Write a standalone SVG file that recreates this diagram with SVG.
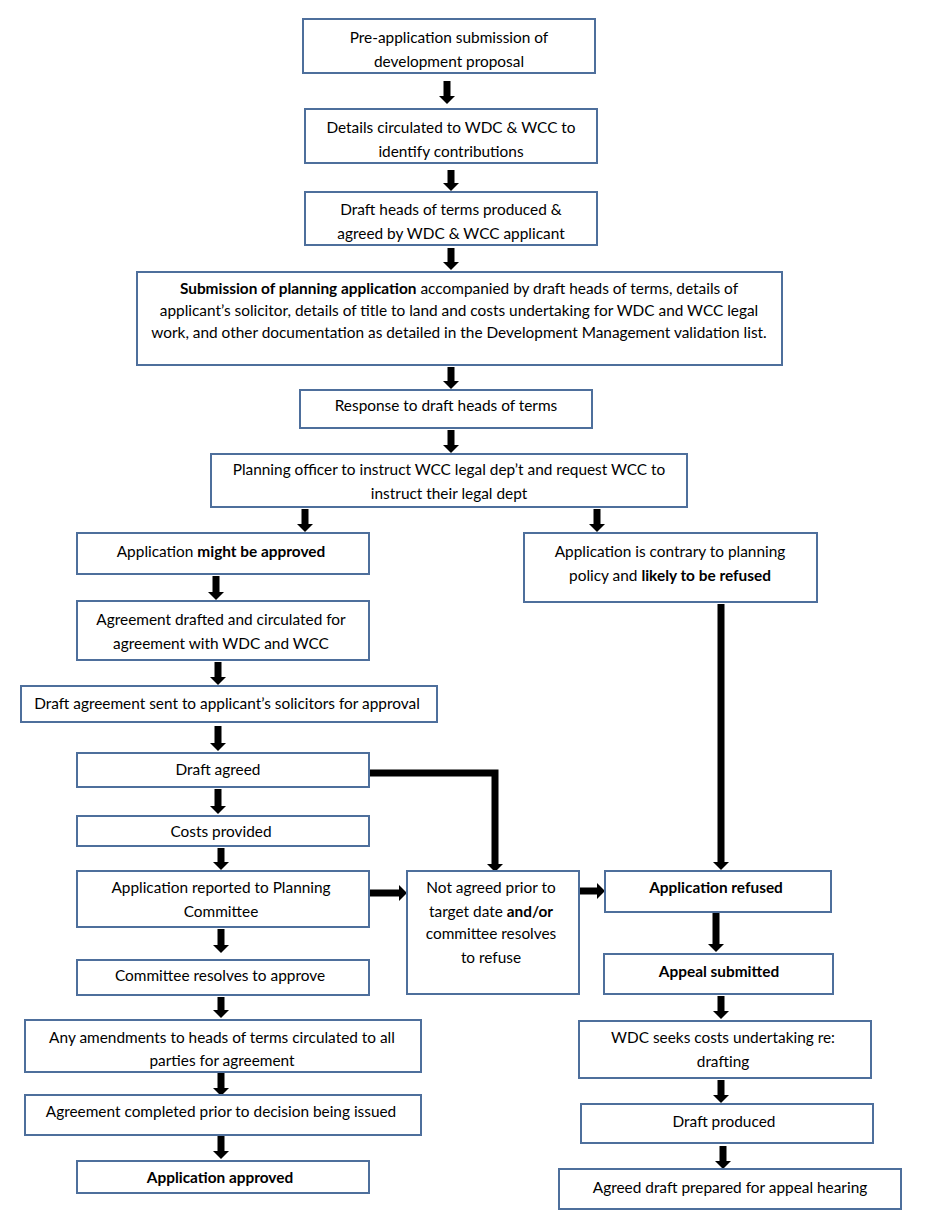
<svg xmlns="http://www.w3.org/2000/svg" width="926" height="1228" viewBox="0 0 926 1228">
<style>
.b{fill:#fff;stroke:#4E6F9C;stroke-width:2}
text{font-family:Lato,"Open Sans","Liberation Sans",sans-serif;font-size:15.4px;fill:#000;text-anchor:middle}
.bd{font-weight:bold}
.c{fill:none;stroke:#000;stroke-width:7}
</style>
<defs>
<marker id="ah" markerUnits="userSpaceOnUse" viewBox="0 0 8 16" refX="0" refY="8" markerWidth="8" markerHeight="16" orient="auto">
<path d="M0,0 L8,8 L0,16 z" fill="#000"/>
</marker>
</defs>
<rect width="926" height="1228" fill="#fff"/>
<g id="connectors">
<path class="c" d="M447,81 V96" marker-end="url(#ah)"/>
<path class="c" d="M451,170 V183" marker-end="url(#ah)"/>
<path class="c" d="M451,248 V262" marker-end="url(#ah)"/>
<path class="c" d="M451,367 V381" marker-end="url(#ah)"/>
<path class="c" d="M451,430 V445" marker-end="url(#ah)"/>
<path class="c" d="M305,509 V524" marker-end="url(#ah)"/>
<path class="c" d="M597,509 V524" marker-end="url(#ah)"/>
<path class="c" d="M216,576 V592" marker-end="url(#ah)"/>
<path class="c" d="M218,662 V677" marker-end="url(#ah)"/>
<path class="c" d="M218,726 V743" marker-end="url(#ah)"/>
<path class="c" d="M218,789 V806" marker-end="url(#ah)"/>
<path class="c" d="M221,848 V862" marker-end="url(#ah)"/>
<path class="c" d="M221,929 V945" marker-end="url(#ah)"/>
<path class="c" d="M221,997 V1010" marker-end="url(#ah)"/>
<path class="c" d="M221,1073 V1088" marker-end="url(#ah)"/>
<path class="c" d="M221,1136 V1151" marker-end="url(#ah)"/>
<path class="c" d="M721,604 V862" marker-end="url(#ah)"/>
<path class="c" d="M716,913 V944" marker-end="url(#ah)"/>
<path class="c" d="M721,996 V1011" marker-end="url(#ah)"/>
<path class="c" d="M721,1080 V1095" marker-end="url(#ah)"/>
<path class="c" d="M723,1146 V1161" marker-end="url(#ah)"/>
<path class="c" d="M369,773 H495 V864" marker-end="url(#ah)"/>
<path class="c" d="M370,893 H399" marker-end="url(#ah)"/>
<path class="c" d="M580,891 H597" marker-end="url(#ah)"/>
</g>
<g id="n1"><rect class="b" x="303" y="19" width="292" height="54"/><text x="449" y="43">Pre-application submission of</text><text x="449" y="67">development proposal</text></g>
<g id="n2"><rect class="b" x="305" y="109" width="292" height="54"/><text x="451" y="133">Details circulated to WDC &amp; WCC to</text><text x="451" y="157">identify contributions</text></g>
<g id="n3"><rect class="b" x="305" y="192" width="292" height="53"/><text x="451" y="215">Draft heads of terms produced &amp;</text><text x="451" y="239">agreed by WDC &amp; WCC applicant</text></g>
<g id="n4"><rect class="b" x="137" y="272" width="645" height="93"/><text x="459" y="294"><tspan class="bd">Submission of planning application</tspan> accompanied by draft heads of terms, details of</text><text x="459" y="316">applicant’s solicitor, details of title to land and costs undertaking for WDC and WCC legal</text><text x="459" y="338">work, and other documentation as detailed in the Development Management validation list.</text></g>
<g id="n5"><rect class="b" x="300" y="390" width="292" height="38"/><text x="446" y="411">Response to draft heads of terms</text></g>
<g id="n6"><rect class="b" x="211" y="454" width="476" height="53"/><text x="449" y="475">Planning officer to instruct WCC legal dep’t and request WCC to</text><text x="449" y="499">instruct their legal dept</text></g>
<g id="n7"><rect class="b" x="77" y="533" width="292" height="41"/><text x="221" y="557">Application <tspan class="bd">might be approved</tspan></text></g>
<g id="n8"><rect class="b" x="524" y="533" width="293" height="69"/><text x="670" y="557">Application is contrary to planning</text><text x="670" y="581">policy and <tspan class="bd">likely to be refused</tspan></text></g>
<g id="n9"><rect class="b" x="77" y="601" width="292" height="59"/><text x="221" y="625">Agreement drafted and circulated for</text><text x="221" y="649">agreement with WDC and WCC</text></g>
<g id="n10"><rect class="b" x="21" y="686" width="416" height="36"/><text x="227" y="709">Draft agreement sent to applicant’s solicitors for approval</text></g>
<g id="n11"><rect class="b" x="77" y="753" width="292" height="34"/><text x="218" y="775">Draft agreed</text></g>
<g id="n12"><rect class="b" x="77" y="816" width="292" height="30"/><text x="221" y="837">Costs provided</text></g>
<g id="n13"><rect class="b" x="77" y="871" width="292" height="56"/><text x="221" y="893">Application reported to Planning</text><text x="221" y="917">Committee</text></g>
<g id="n14"><rect class="b" x="407" y="871" width="172" height="123"/><text x="491" y="893">Not agreed prior to</text><text x="491" y="917">target date <tspan class="bd">and/or</tspan></text><text x="491" y="939">committee resolves</text><text x="491" y="963">to refuse</text></g>
<g id="n15"><rect class="b" x="605" y="871" width="226" height="41"/><text x="716" y="893" class="bd">Application refused</text></g>
<g id="n16"><rect class="b" x="77" y="960" width="292" height="35"/><text x="220" y="981">Committee resolves to approve</text></g>
<g id="n17"><rect class="b" x="604" y="954" width="229" height="40"/><text x="719" y="977" class="bd">Appeal submitted</text></g>
<g id="n18"><rect class="b" x="25" y="1020" width="396" height="52"/><text x="222" y="1043">Any amendments to heads of terms circulated to all</text><text x="222" y="1066">parties for agreement</text></g>
<g id="n19"><rect class="b" x="579" y="1021" width="292" height="57"/><text x="723" y="1043">WDC seeks costs undertaking re:</text><text x="723" y="1067">drafting</text></g>
<g id="n20"><rect class="b" x="25" y="1095" width="396" height="40"/><text x="221" y="1117">Agreement completed prior to decision being issued</text></g>
<g id="n21"><rect class="b" x="581" y="1104" width="292" height="39"/><text x="724" y="1127">Draft produced</text></g>
<g id="n22"><rect class="b" x="77" y="1161" width="292" height="32"/><text x="220" y="1183" class="bd">Application approved</text></g>
<g id="n23"><rect class="b" x="559" y="1169" width="342" height="40"/><text x="730" y="1193">Agreed draft prepared for appeal hearing</text></g>
</svg>
